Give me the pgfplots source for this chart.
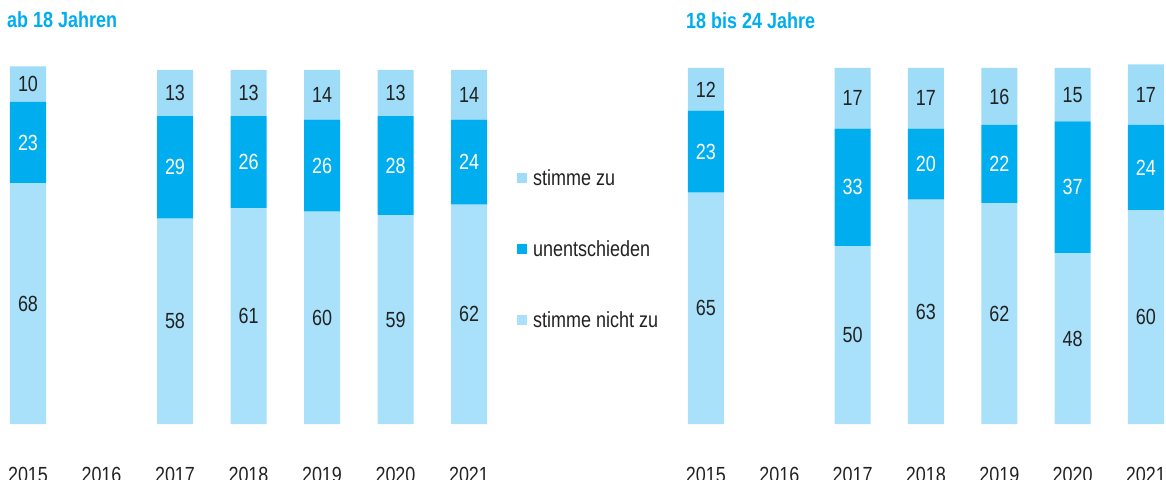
\documentclass[border=0pt]{standalone}
\usepackage{pgfplots}
\pgfplotsset{compat=1.18}
\usepackage{pgfplotstable}
\usepackage{fontspec}
\setmainfont{Liberation Sans}[FakeStretch=0.82]

\definecolor{zucol}{HTML}{9FDCF7}
\definecolor{unentcol}{HTML}{00AEEF}
\definecolor{nichtcol}{HTML}{A9E1FA}
\definecolor{txt}{HTML}{222222}

% year index: 0=2015 ... 6=2021 (2016 has no data)
\pgfplotstableread{
x zu unent nicht
0 10 23 68
2 13 29 58
3 13 26 61
4 14 26 60
5 13 28 59
6 14 24 62
}\tabA
\pgfplotstableread{
x zu unent nicht
0 12 23 65
2 17 33 50
3 17 20 63
4 16 22 62
5 15 37 48
6 17 24 60
}\tabB

\pgfplotsset{
  panel/.style={
    anchor=south west, scale only axis,
    xmin=-0.5, xmax=6.5, ymin=0, ymax=100,
    axis line style={draw=none}, major tick length=0pt,
    ytick=\empty, xtick={0,...,6},
    xticklabels={2015,2016,2017,2018,2019,2020,2021},
    xticklabel style={anchor=north, inner sep=0pt, yshift=-43bp, text=txt},
    font=\fontsize{22}{26}\selectfont,
    /pgf/number format/assume math mode=true,
    clip=false,
  },
  bars/.style={panel, ybar stacked, bar width=36bp},
  labs/.style={panel, xticklabels={}, nodes near coords,
    every node near coord/.append style={anchor=center, font=\fontsize{22}{26}\selectfont}},
}

\begin{document}
\begin{tikzpicture}[x=1bp,y=1bp]
\useasboundingbox (0,0) rectangle (1166,-480);

\node[anchor=base west, inner sep=0pt, text=unentcol, font=\fontsize{22}{26}\selectfont\bfseries] at (7,-28) {ab 18 Jahren};
\node[anchor=base west, inner sep=0pt, text=unentcol, font=\fontsize{22}{26}\selectfont\bfseries] at (686,-29) {18 bis 24 Jahre};

% left panel
\begin{axis}[bars, at={(-8.75bp,-424bp)}, width=514.5bp, height=354bp,
  reverse legend,
  legend cell align=left,
  legend style={at={(1.0219,0.725)}, anchor=north west, draw=none, fill=none,
    row sep=49.5bp, column sep=4bp, inner sep=0pt, font=\fontsize{22}{26}\selectfont, text=txt,
    nodes={inner sep=2bp}},
  legend image code/.code={\fill[#1] (0bp,-5bp) rectangle (10bp,5bp);},
]
\addplot[fill=nichtcol, draw=none] table[x=x, y=nicht] {\tabA};
\addlegendentry{stimme nicht zu}
\addplot[fill=unentcol, draw=none] table[x=x, y=unent] {\tabA};
\addlegendentry{unentschieden}
\addplot[fill=zucol, draw=none] table[x=x, y=zu] {\tabA};
\addlegendentry{stimme zu}
\end{axis}
\begin{axis}[labs, at={(-8.75bp,-424bp)}, width=514.5bp, height=354bp]
\addplot[draw=none, point meta=explicit, every node near coord/.append style={text=txt}]
  table[x=x, y expr=\thisrow{nicht}/2, meta=nicht] {\tabA};
\addplot[draw=none, point meta=explicit, every node near coord/.append style={text=white}]
  table[x=x, y expr=\thisrow{nicht}+\thisrow{unent}/2, meta=unent] {\tabA};
\addplot[draw=none, point meta=explicit, every node near coord/.append style={text=txt}]
  table[x=x, y expr=\thisrow{nicht}+\thisrow{unent}+\thisrow{zu}/2, meta=zu] {\tabA};
\end{axis}

% right panel
\begin{axis}[bars, at={(669.3bp,-424bp)}, width=513.3bp, height=356bp]
\addplot[fill=nichtcol, draw=none] table[x=x, y=nicht] {\tabB};
\addplot[fill=unentcol, draw=none] table[x=x, y=unent] {\tabB};
\addplot[fill=zucol, draw=none] table[x=x, y=zu] {\tabB};
\end{axis}
\begin{axis}[labs, at={(669.3bp,-424bp)}, width=513.3bp, height=356bp]
\addplot[draw=none, point meta=explicit, every node near coord/.append style={text=txt}]
  table[x=x, y expr=\thisrow{nicht}/2, meta=nicht] {\tabB};
\addplot[draw=none, point meta=explicit, every node near coord/.append style={text=white}]
  table[x=x, y expr=\thisrow{nicht}+\thisrow{unent}/2, meta=unent] {\tabB};
\addplot[draw=none, point meta=explicit, every node near coord/.append style={text=txt}]
  table[x=x, y expr=\thisrow{nicht}+\thisrow{unent}+\thisrow{zu}/2, meta=zu] {\tabB};
\end{axis}
\end{tikzpicture}
\end{document}
